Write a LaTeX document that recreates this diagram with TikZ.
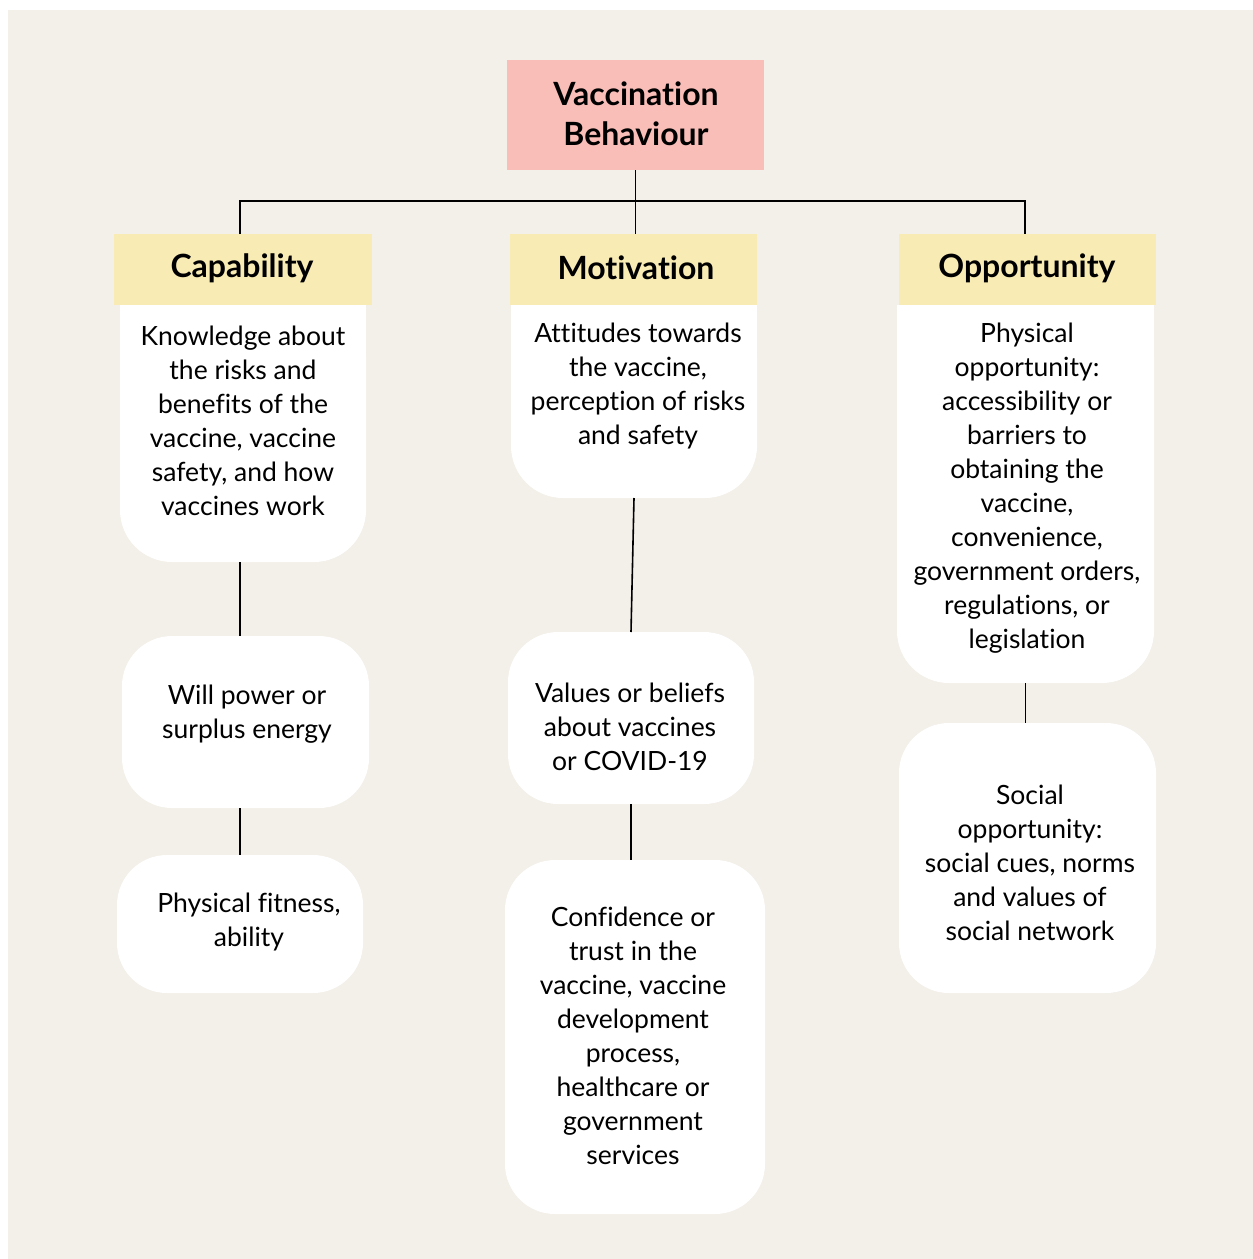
\documentclass[tikz,border=0pt]{standalone}
\usepackage{fontspec}
\setmainfont{Lato}[Ligatures=NoCommon]
\definecolor{bgc}{RGB}{243,239,233}
\definecolor{pinkc}{RGB}{249,190,184}
\definecolor{yelc}{RGB}{248,235,180}
\tikzset{
  box/.style={shape=rectangle, inner sep=0pt, outer sep=0pt},
  titlebox/.style={box, fill=pinkc},
  headbox/.style={box, fill=yelc},
  roundbox/.style={box, fill=white, rounded corners=50pt},
  ghost/.style={box},
  body/.style={align=center, inner sep=0pt, font=\fontsize{26.5}{34}\selectfont},
  headtxt/.style={align=center, inner sep=0pt, font=\fontsize{32}{40}\selectfont\bfseries},
  conn/.style={draw=black, line width=1.6pt},
}
\begin{document}
\begin{tikzpicture}[x=1pt,y=-1pt]
\useasboundingbox (0,0) rectangle (1253,1259);
\fill[white] (0,0) rectangle (1253,1259);
\fill[bgc] (8,10) rectangle (1253,1259);

% title
\node[titlebox, minimum width=257pt, minimum height=110pt] (title) at (635.5,115) {};
\node[headtxt] (titletxt) at (636,114) {Vaccination\\Behaviour};

% headers
\node[headbox, minimum width=258pt, minimum height=71pt] (cap) at (243,269.5) {};
\node[headbox, minimum width=247pt, minimum height=71pt] (mot) at (633.5,269.5) {};
\node[headbox, minimum width=257pt, minimum height=71pt] (opp) at (1027.5,269.5) {};
\node[headtxt] (captxt) at (242,268) {Capability};
\node[headtxt] (mottxt) at (636,268) {Motivation};
\node[headtxt] (opptxt) at (1027,268) {Opportunity};

% white boxes attached to headers (square top, rounded bottom)
\node[ghost, minimum width=246pt, minimum height=257pt] (capw) at (243,433.5) {};
\node[ghost, minimum width=246pt, minimum height=193pt] (motw) at (634,401.5) {};
\node[ghost, minimum width=257pt, minimum height=378pt] (oppw) at (1025.5,494) {};
\foreach \n in {capw,motw,oppw}{
  \fill[white, rounded corners=52pt] (\n.north west) rectangle (\n.south east);
  \fill[white] (\n.north west) rectangle (\n.east);
}

% standalone boxes
\node[roundbox, minimum width=247pt, minimum height=172pt] (will) at (245.5,722) {};
\node[roundbox, minimum width=246pt, minimum height=138pt] (fit) at (240,924) {};
\node[roundbox, minimum width=246pt, minimum height=172pt] (val) at (631,718) {};
\node[roundbox, minimum width=260pt, minimum height=354pt] (conf) at (635,1037) {};
\node[roundbox, minimum width=257pt, minimum height=270pt] (soc) at (1027.5,858) {};

% texts
\node[body] (capt) at (243,421) {Knowledge about\\the risks and\\benefits of the\\vaccine, vaccine\\safety, and how\\vaccines work};
\node[body] (mott) at (638,386) {Attitudes towards\\the vaccine,\\perception of risks\\and safety};
\node[body] (oppt) at (1027,488.5) {Physical\\opportunity:\\accessibility or\\barriers to\\obtaining the\\vaccine,\\convenience,\\government orders,\\regulations, or\\legislation};
\node[body] (willt) at (247,714) {Will power or\\surplus energy};
\node[body] (fitt) at (249,922) {Physical fitness,\\ability};
\node[body] (valt) at (630,727) {Values or beliefs\\about vaccines\\or COVID-19};
\node[body] (conft) at (633,1036) {Confidence or\\trust in the\\vaccine, vaccine\\development\\process,\\healthcare or\\government\\services};
\node[body] (soct) at (1030,863) {Social\\opportunity:\\social cues, norms\\and values of\\social network};

% connectors
\coordinate (hub) at (635,201);
\draw[conn] (title.south) -- (title.south |- mot.north);
\draw[conn] ([xshift=-3pt]cap.north) |- (hub) -| ([xshift=-2.5pt]opp.north);
\draw[conn] ([xshift=-3pt]capw.south) -- ([xshift=-3pt]capw.south |- will.north);
\draw[conn] ([xshift=-3pt]capw.south |- will.south) -- ([xshift=-3pt]capw.south |- fit.north);
\draw[conn] (motw.south) -- (val.north);
\draw[conn] (val.south) -- (val.south |- conf.north);
\draw[conn] (oppw.south) -- (oppw.south |- soc.north);
\end{tikzpicture}
\end{document}
